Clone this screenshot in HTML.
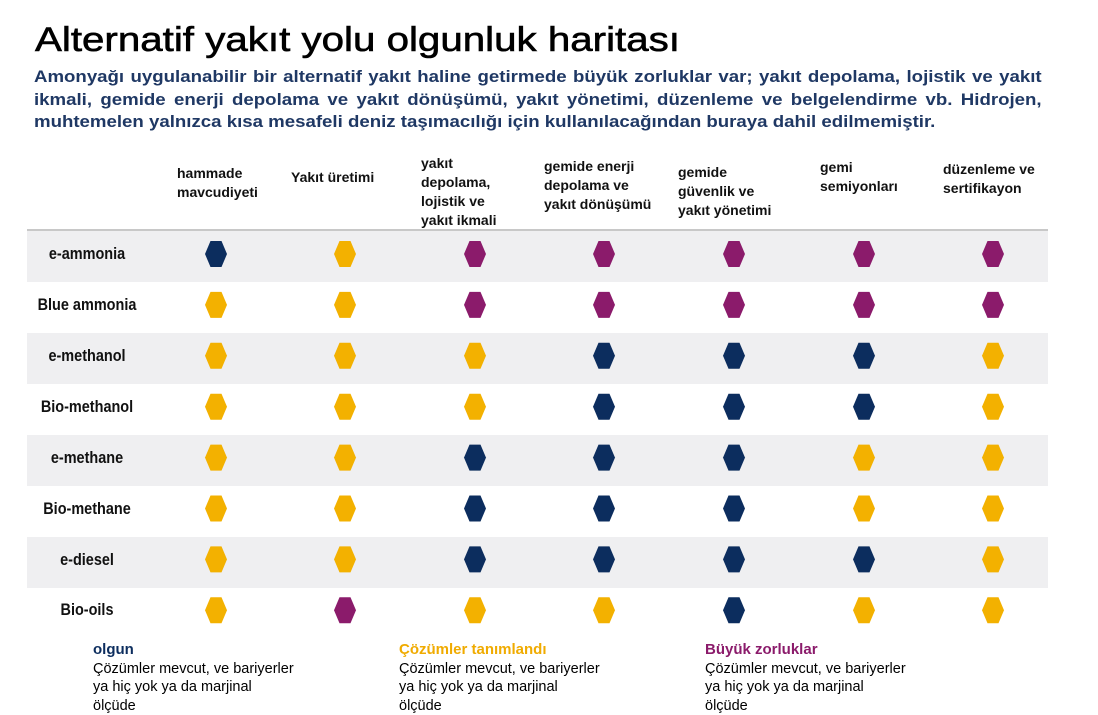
<!DOCTYPE html>
<html><head><meta charset="utf-8"><style>
body{margin:0;width:1098px;height:713px;background:#fff;position:relative;overflow:hidden;font-family:"Liberation Sans",sans-serif}
.a{position:absolute}
.t{left:35px;top:21px;font-size:34px;color:#000;white-space:nowrap;transform:scaleX(1.185);transform-origin:0 0;-webkit-text-stroke:0.6px #000}
.s{left:34px;width:880px;font-size:16.3px;font-weight:bold;color:#1f3864;text-align:justify;text-align-last:justify;white-space:nowrap;line-height:20px;transform:scaleX(1.145);transform-origin:0 0}
.h{font-weight:bold;font-size:14px;line-height:19px;color:#111}
.band{left:27px;width:1021px;height:51px;background:#efeff1}
.rl{left:17px;width:140px;text-align:center;font-weight:bold;font-size:17px;color:#111;font-family:"Liberation Sans Narrow","Liberation Sans",sans-serif;transform:scaleX(.85)}
.lg{font-size:14.5px;line-height:18.5px;color:#000}
.lt{font-size:15px;font-weight:bold}
</style></head><body>
<div class="a t">Alternatif yakıt yolu olgunluk haritası</div>
<div class="a s" style="top:67px">Amonyağı uygulanabilir bir alternatif yakıt haline getirmede büyük zorluklar var; yakıt depolama, lojistik ve yakıt</div>
<div class="a s" style="top:90px">ikmali, gemide enerji depolama ve yakıt dönüşümü, yakıt yönetimi, düzenleme ve belgelendirme vb. Hidrojen,</div>
<div class="a s" style="top:112px;text-align-last:left">muhtemelen yalnızca kısa mesafeli deniz taşımacılığı için kullanılacağından buraya dahil edilmemiştir.</div>

<div class="a h" style="left:177px;top:164px">hammade<br>mavcudiyeti</div>
<div class="a h" style="left:291px;top:168px">Yakıt üretimi</div>
<div class="a h" style="left:421px;top:154px">yakıt<br>depolama,<br>lojistik ve<br>yakıt ikmali</div>
<div class="a h" style="left:544px;top:157px">gemide enerji<br>depolama ve<br>yakıt dönüşümü</div>
<div class="a h" style="left:678px;top:163px">gemide<br>güvenlik ve<br>yakıt yönetimi</div>
<div class="a h" style="left:820px;top:158px">gemi<br>semiyonları</div>
<div class="a h" style="left:943px;top:160px">düzenleme ve<br>sertifikayon</div>
<div class="a" style="left:27px;top:229px;width:1021px;height:2px;background:#c8c8c8"></div>

<div class="a band" style="top:231px"></div>
<div class="a band" style="top:333px"></div>
<div class="a band" style="top:435px"></div>
<div class="a band" style="top:537px"></div>

<div class="a rl" style="top:244px">e-ammonia</div>
<div class="a rl" style="top:295px">Blue ammonia</div>
<div class="a rl" style="top:346px">e-methanol</div>
<div class="a rl" style="top:397px">Bio-methanol</div>
<div class="a rl" style="top:448px">e-methane</div>
<div class="a rl" style="top:499px">Bio-methane</div>
<div class="a rl" style="top:550px">e-diesel</div>
<div class="a rl" style="top:600px">Bio-oils</div>

<svg class="a" style="left:0;top:0" width="1098" height="713" id="g"></svg>
<script>
var N="#0c2d5e",Y="#f3b100",P="#8b1b6b";
var rows=[[N,Y,P,P,P,P,P],[Y,Y,P,P,P,P,P],[Y,Y,Y,N,N,N,Y],[Y,Y,Y,N,N,N,Y],[Y,Y,N,N,N,Y,Y],[Y,Y,N,N,N,Y,Y],[Y,Y,N,N,N,N,Y],[Y,P,Y,Y,N,Y,Y]];
var cx=[216,345,475,604,734,864,993],s="";
rows.forEach(function(r,i){var cy=254+i*50.9;r.forEach(function(c,j){var x=cx[j];
s+='<polygon fill="'+c+'" points="'+(x-11)+','+cy+' '+(x-5.5)+','+(cy-13)+' '+(x+5.5)+','+(cy-13)+' '+(x+11)+','+cy+' '+(x+5.5)+','+(cy+13)+' '+(x-5.5)+','+(cy+13)+'"/>';});});
document.getElementById("g").innerHTML=s;
</script>

<div class="a lg" style="left:93px;top:641px"><span class="lt" style="color:#0c2d5e">olgun</span><br>Çözümler mevcut, ve bariyerler<br>ya hiç yok ya da marjinal<br>ölçüde</div>
<div class="a lg" style="left:399px;top:641px"><span class="lt" style="color:#f0ab00">Çözümler tanımlandı</span><br>Çözümler mevcut, ve bariyerler<br>ya hiç yok ya da marjinal<br>ölçüde</div>
<div class="a lg" style="left:705px;top:641px"><span class="lt" style="color:#8b1b6b">Büyük zorluklar</span><br>Çözümler mevcut, ve bariyerler<br>ya hiç yok ya da marjinal<br>ölçüde</div>
</body></html>
